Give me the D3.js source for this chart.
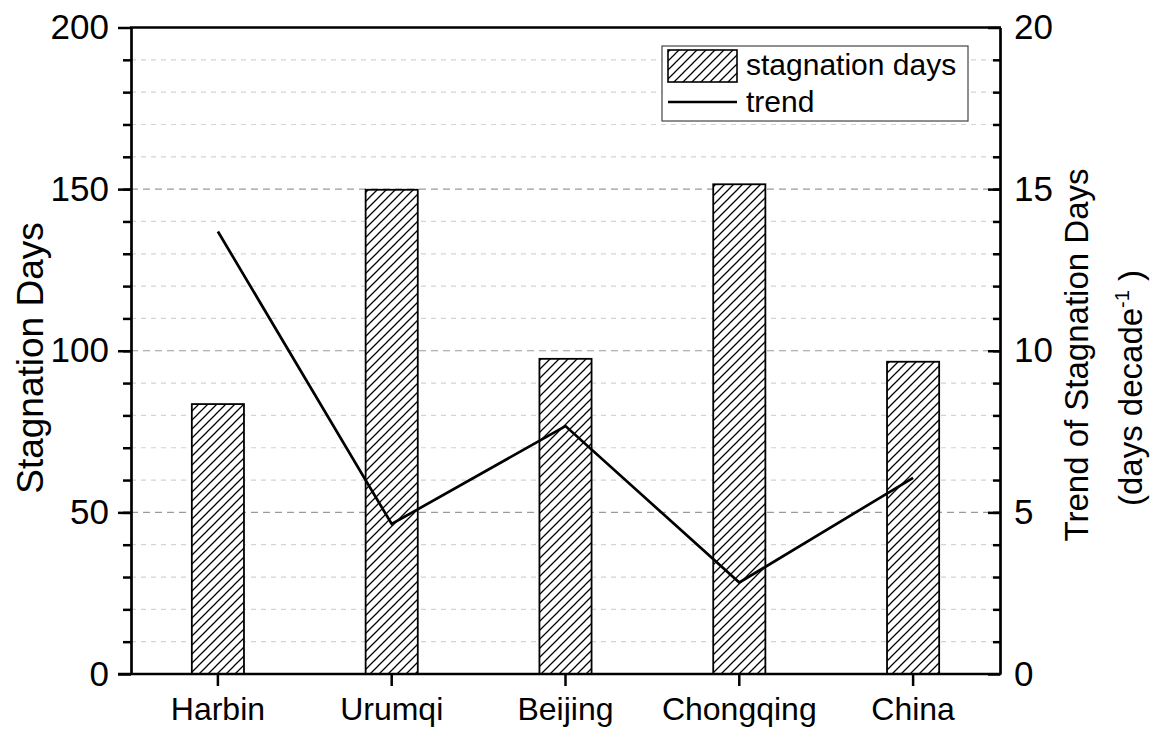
<!DOCTYPE html>
<html>
<head>
<meta charset="utf-8">
<script src="https://cdn.jsdelivr.net/npm/d3@7"></script>
<style>
  html, body { margin: 0; padding: 0; background: #fff; }
  svg { display: block; font-family: "Liberation Sans", Arial, sans-serif; }
</style>
</head>
<body>
<svg id="chart" width="1155" height="730"></svg>
<script>
// ---- data ----
const categories = ["Harbin", "Urumqi", "Beijing", "Chongqing", "China"];
const stagnationDays = [83.5, 149.8, 97.5, 151.5, 96.6];
const trendValues = [13.69, 4.64, 7.67, 2.83, 6.07];
const leftTicks = [0, 50, 100, 150, 200];
const rightTicks = [0, 5, 10, 15, 20];
const legendLabels = ["stagnation days", "trend"];

// ---- layout ----
const L = 131, R = 1000, T = 27.5, B = 674;
const svg = d3.select("#chart");

const defs = svg.append("defs");
const pat = defs.append("pattern")
  .attr("id", "hatch").attr("patternUnits", "userSpaceOnUse")
  .attr("width", 9).attr("height", 9);
pat.append("rect").attr("width", 9).attr("height", 9).attr("fill", "#fff");
pat.append("path")
  .attr("d", "M0,9 L9,0 M-3,3 L3,-3 M6,12 L12,6")
  .attr("stroke", "#000").attr("stroke-width", 1.25);

const x = d3.scaleBand().domain(categories).range([L, R]);
const yL = d3.scaleLinear().domain([0, 200]).range([B, T]);
const yR = d3.scaleLinear().domain([0, 20]).range([B, T]);

// gridlines
const gridVals = d3.range(10, 200, 10);
svg.append("g").selectAll("line").data(gridVals).join("line")
  .attr("x1", L).attr("x2", R)
  .attr("y1", d => yL(d)).attr("y2", d => yL(d))
  .attr("stroke", d => d % 50 === 0 ? "#9a9a9a" : "#d4d4d4")
  .attr("stroke-width", 1.2)
  .attr("stroke-dasharray", d => d % 50 === 0 ? "7,5" : "5,5");

// bars
const bw = x.bandwidth() * 0.3;
svg.append("g").selectAll("rect").data(categories).join("rect")
  .attr("x", d => x(d) + x.bandwidth() / 2 - bw / 2)
  .attr("width", bw)
  .attr("y", (d, i) => yL(stagnationDays[i]))
  .attr("height", (d, i) => B - yL(stagnationDays[i]))
  .attr("fill", "url(#hatch)")
  .attr("stroke", "#000").attr("stroke-width", 1.8);

// trend line
const line = d3.line()
  .x((d, i) => x(categories[i]) + x.bandwidth() / 2)
  .y(d => yR(d));
svg.append("path").datum(trendValues)
  .attr("d", line).attr("fill", "none")
  .attr("stroke", "#000").attr("stroke-width", 2.7)
  .attr("stroke-linejoin", "miter");

// axes
function styleAxis(g, fs) {
  g.selectAll(".domain").attr("stroke", "#000").attr("stroke-width", 2.7);
  g.selectAll(".tick line").attr("stroke", "#000").attr("stroke-width", 2.5);
  g.selectAll("text").attr("font-size", fs).attr("fill", "#000")
    .attr("font-family", "'Liberation Sans', Arial, sans-serif");
}

// left minor
const gLm = svg.append("g").attr("transform", `translate(${L},0)`)
  .call(d3.axisLeft(yL).tickValues(gridVals).tickSize(8).tickFormat(""));
gLm.select(".domain").remove();
styleAxis(gLm, 35);
// left major
const gL = svg.append("g").attr("transform", `translate(${L},0)`)
  .call(d3.axisLeft(yL).tickValues(leftTicks).tickSize(13).tickSizeOuter(0).tickPadding(9));
styleAxis(gL, 35);

// right minor
const gRm = svg.append("g").attr("transform", `translate(${R},0)`)
  .call(d3.axisRight(yR).tickValues(d3.range(1, 20, 1)).tickSize(-7).tickFormat(""));
gRm.select(".domain").remove();
styleAxis(gRm, 35);
// right major
const gR = svg.append("g").attr("transform", `translate(${R},0)`)
  .call(d3.axisRight(yR).tickValues(rightTicks).tickSize(-12).tickSizeOuter(0).tickPadding(14));
styleAxis(gR, 35);

// bottom
const gB = svg.append("g").attr("transform", `translate(0,${B})`)
  .call(d3.axisBottom(x).tickSize(12).tickSizeOuter(0).tickPadding(11));
styleAxis(gB, 32);
gB.select(".domain").attr("d", `M${L - 13},0H${R + 1}`);

// top border
svg.append("line").attr("x1", L - 1).attr("x2", R + 1).attr("y1", T).attr("y2", T)
  .attr("stroke", "#000").attr("stroke-width", 2.7);

// axis titles
svg.append("text")
  .attr("transform", `translate(43,358) rotate(-90)`)
  .attr("text-anchor", "middle").attr("font-size", 37).text("Stagnation Days");
svg.append("text")
  .attr("transform", `translate(1088,355) rotate(-90)`)
  .attr("text-anchor", "middle").attr("font-size", 33).text("Trend of Stagnation Days");
const t2 = svg.append("text")
  .attr("transform", `translate(1142,388) rotate(-90)`)
  .attr("text-anchor", "middle").attr("font-size", 33);
t2.append("tspan").text("(days decade");
t2.append("tspan").attr("dy", -13).attr("font-size", 20).text("-1");
t2.append("tspan").attr("dy", 13).text(" )");

// legend
const lg = svg.append("g");
lg.append("rect").attr("x", 662).attr("y", 46).attr("width", 306).attr("height", 75)
  .attr("fill", "#fff").attr("stroke", "#444").attr("stroke-width", 1.2);
lg.append("rect").attr("x", 668).attr("y", 50).attr("width", 69).attr("height", 32)
  .attr("fill", "url(#hatch)").attr("stroke", "#000").attr("stroke-width", 1.6);
lg.append("line").attr("x1", 668).attr("x2", 737).attr("y1", 102).attr("y2", 102)
  .attr("stroke", "#000").attr("stroke-width", 2.5);
lg.append("text").attr("x", 746).attr("y", 75).attr("font-size", 30).text(legendLabels[0]);
lg.append("text").attr("x", 746).attr("y", 111.5).attr("font-size", 30).text(legendLabels[1]);
</script>
</body>
</html>
